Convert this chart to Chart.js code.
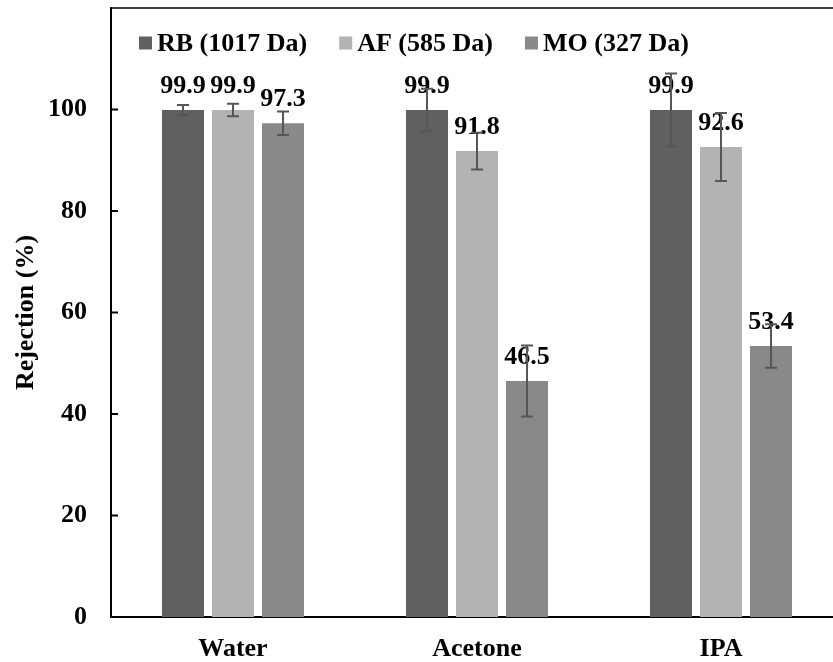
<!DOCTYPE html>
<html lang="en">
<head>
  <meta charset="UTF-8" />
  <title>Rejection by solvent</title>
  <script src="https://cdn.jsdelivr.net/npm/chart.js"></script>
  <style>
    body { margin:0; background:#fff; overflow:hidden; }
    #wrap { width:833px; height:662px; overflow:hidden; }
    canvas { display:block; }
  </style>
</head>
<body>
  <div id="wrap"><canvas id="chart" width="860" height="662"></canvas></div>

  <script>
    // data
    const categories = ['Water', 'Acetone', 'IPA'];
    const seriesLabels = ['RB (1017 Da)', 'AF (585 Da)', 'MO (327 Da)'];
    const rbValues = [99.9, 99.9, 99.9];
    const afValues = [99.9, 91.8, 92.6];
    const moValues = [97.3, 46.5, 53.4];
    const rbErrors = [1.0, 4.2, 7.2];
    const afErrors = [1.25, 3.6, 6.7];
    const moErrors = [2.3, 7.0, 4.3];
    const yMax = 120;
    const yStep = 20;

    const FONT = '"Liberation Serif", "Times New Roman", serif';
    const colors = ['#606060', '#b3b3b3', '#898989'];

    // value labels + error bars on top of the bars
    const barExtras = {
      id: 'barExtras',
      afterDatasetsDraw(chart) {
        const ctx = chart.ctx;
        const y = chart.scales.y;
        ctx.save();
        ctx.font = 'bold 26px ' + FONT;
        ctx.fillStyle = '#000';
        ctx.textAlign = 'center';
        ctx.textBaseline = 'alphabetic';
        chart.data.datasets.forEach((ds, i) => {
          chart.getDatasetMeta(i).data.forEach((bar, j) => {
            ctx.fillText(ds.data[j].toFixed(1), bar.x, bar.y - 17);
          });
        });
        ctx.strokeStyle = '#565656';
        ctx.lineWidth = 2;
        chart.data.datasets.forEach((ds, i) => {
          chart.getDatasetMeta(i).data.forEach((bar, j) => {
            const v = ds.data[j], e = ds.errors[j];
            const top = y.getPixelForValue(v + e);
            const bot = y.getPixelForValue(v - e);
            ctx.beginPath();
            ctx.moveTo(bar.x, top); ctx.lineTo(bar.x, bot);
            ctx.moveTo(bar.x - 6, top); ctx.lineTo(bar.x + 6, top);
            ctx.moveTo(bar.x - 6, bot); ctx.lineTo(bar.x + 6, bot);
            ctx.stroke();
          });
        });
        ctx.restore();
      },
      afterDraw(chart) {
        const ctx = chart.ctx;
        const a = chart.chartArea;
        const y = chart.scales.y;
        ctx.save();
        // top frame line
        ctx.strokeStyle = '#000';
        ctx.lineWidth = 1.5;
        ctx.beginPath();
        ctx.moveTo(a.left, a.top); ctx.lineTo(a.right, a.top);
        ctx.stroke();
        // inward tick marks
        ctx.lineWidth = 2;
        y.ticks.forEach(t => {
          const py = y.getPixelForValue(t.value);
          ctx.beginPath();
          ctx.moveTo(a.left, py); ctx.lineTo(a.left + 7, py);
          ctx.stroke();
        });
        // legend inside plot
        ctx.font = 'bold 26px ' + FONT;
        ctx.textBaseline = 'middle';
        ctx.textAlign = 'left';
        let x = a.left + 28;
        const cy = a.top + 35;
        chart.data.datasets.forEach(ds => {
          ctx.fillStyle = ds.backgroundColor;
          ctx.fillRect(x, cy - 6.5, 13, 13);
          ctx.fillStyle = '#000';
          ctx.fillText(ds.label, x + 18, cy + 1);
          x += 18 + ctx.measureText(ds.label).width + 32;
        });
        ctx.restore();
      }
    };

    const mkSet = (k, data, errors) => ({
      label: seriesLabels[k],
      data: data,
      errors: errors,
      backgroundColor: colors[k],
      barPercentage: 0.84,
      categoryPercentage: 0.615
    });

    new Chart(document.getElementById('chart'), {
      type: 'bar',
      data: {
        labels: categories,
        datasets: [
          mkSet(0, rbValues, rbErrors),
          mkSet(1, afValues, afErrors),
          mkSet(2, moValues, moErrors)
        ]
      },
      options: {
        responsive: false,
        animation: false,
        layout: { padding: { top: 8, right: 17, bottom: 0, left: 0 } },
        plugins: { legend: { display: false }, tooltip: { enabled: false } },
        scales: {
          x: {
            grid: { display: false },
            border: { display: true, color: '#000', width: 2 },
            ticks: { color: '#000', padding: 9, font: { family: FONT, size: 26, weight: 'bold' } },
            afterFit: s => { s.height = 45; }
          },
          y: {
            min: 0,
            max: yMax,
            grid: { display: false, drawTicks: false },
            border: { display: true, color: '#000', width: 2 },
            ticks: { stepSize: yStep, color: '#000', padding: 24, font: { family: FONT, size: 26, weight: 'bold' } },
            afterBuildTicks: s => { s.ticks = s.ticks.filter(t => t.value <= 100); },
            afterFit: s => { s.width = 111; s.paddingTop = 0; s.paddingBottom = 0; },
            title: {
              display: true,
              text: 'Rejection (%)',
              color: '#000',
              padding: { top: 11, bottom: 0 },
              font: { family: FONT, size: 26, weight: 'bold' }
            }
          }
        }
      },
      plugins: [barExtras]
    });
  </script>
</body>
</html>
